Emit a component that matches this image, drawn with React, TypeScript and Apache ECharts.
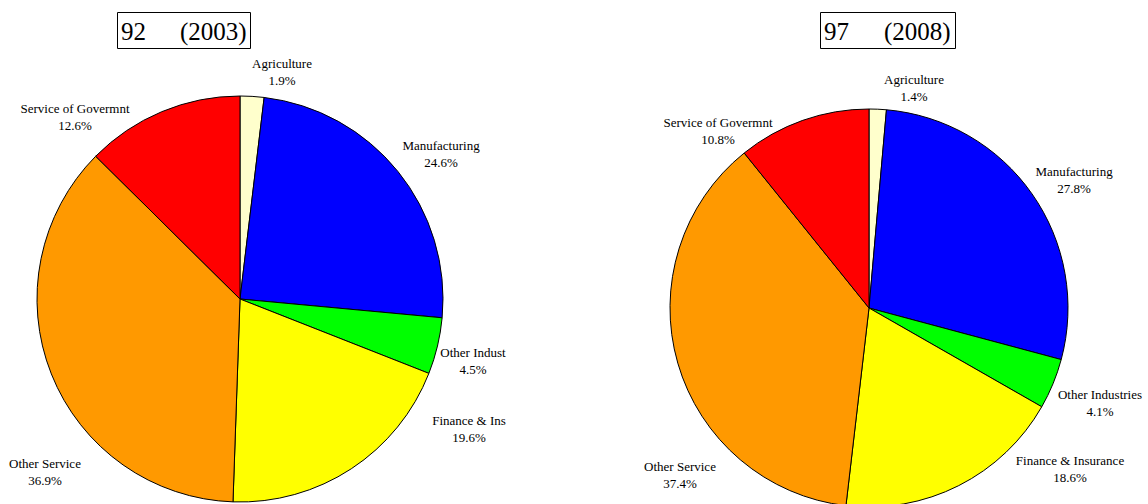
import React, { useEffect, useRef } from "react";
import * as echarts from "echarts";

const colors = ["#FFFFCC", "#0000FF", "#00FF00", "#FFFF00", "#FF9900", "#FF0000"];
const names2003 = ["Agriculture", "Manufacturing", "Other Indust", "Finance & Ins", "Other Service", "Service of Govermnt"];
const values2003 = [1.9, 24.6, 4.5, 19.6, 36.9, 12.6];
const names2008 = ["Agriculture", "Manufacturing", "Other Industries", "Finance & Insurance", "Other Service", "Service of Govermnt"];
const values2008 = [1.4, 27.8, 4.1, 18.6, 37.4, 10.8];
const titleLeft = ["92", "(2003)"];
const titleRight = ["97", "(2008)"];

// label block centers (layout only), in data order
const labelPos2003 = [[282, 72], [441, 154], [473, 361], [469, 429], [45, 472], [75, 117]];
const labelPos2008 = [[914, 88], [1074, 180], [1100, 403], [1070, 469], [680, 475], [718, 131]];

const FONT = "'Liberation Serif', 'Times New Roman', serif";

export default function App() {
  const ref = useRef<HTMLDivElement>(null);
  useEffect(() => {
    document.body.style.margin = "0";
    const chart = echarts.init(ref.current!, null, { renderer: "svg" });
    const mk = (names: string[], vals: number[], center: [number, number], r: number) => ({
      type: "pie",
      center,
      radius: r,
      startAngle: 90,
      clockwise: true,
      silent: true,
      data: names.map((n, i) => ({ name: n, value: vals[i], itemStyle: { color: colors[i] } })),
      itemStyle: { borderColor: "#000", borderWidth: 1 },
      label: { show: false },
      labelLine: { show: false },
    });
    const labels = (names: string[], vals: number[], pos: number[][]) =>
      names.map((n, i) => ({
        type: "text",
        x: pos[i][0],
        y: pos[i][1],
        silent: true,
        style: {
          text: `${n}\n${vals[i].toFixed(1)}%`,
          font: `13px ${FONT}`,
          lineHeight: 17,
          fill: "#000",
          align: "center",
          verticalAlign: "middle",
        },
      }));
    chart.setOption({
      animation: false,
      backgroundColor: "#fff",
      series: [
        mk(names2003, values2003, [240, 299], 203),
        mk(names2008, values2008, [869, 308], 199),
      ],
      graphic: [
        { type: "rect", shape: { x: 117.5, y: 12.5, width: 133, height: 36 }, style: { fill: "#fff", stroke: "#000", lineWidth: 1 } },
        { type: "text", x: 121, y: 31, style: { text: titleLeft[0], font: `25px ${FONT}`, fill: "#000", verticalAlign: "middle" } },
        { type: "text", x: 180, y: 31, style: { text: titleLeft[1], font: `25px ${FONT}`, fill: "#000", verticalAlign: "middle" } },
        { type: "rect", shape: { x: 820.5, y: 12.5, width: 135, height: 36 }, style: { fill: "#fff", stroke: "#000", lineWidth: 1 } },
        { type: "text", x: 824, y: 31, style: { text: titleRight[0], font: `25px ${FONT}`, fill: "#000", verticalAlign: "middle" } },
        { type: "text", x: 884, y: 31, style: { text: titleRight[1], font: `25px ${FONT}`, fill: "#000", verticalAlign: "middle" } },
        ...labels(names2003, values2003, labelPos2003),
        ...labels(names2008, values2008, labelPos2008),
      ],
    });
    return () => chart.dispose();
  }, []);
  return <div ref={ref} style={{ width: 1148, height: 504 }} />;
}
